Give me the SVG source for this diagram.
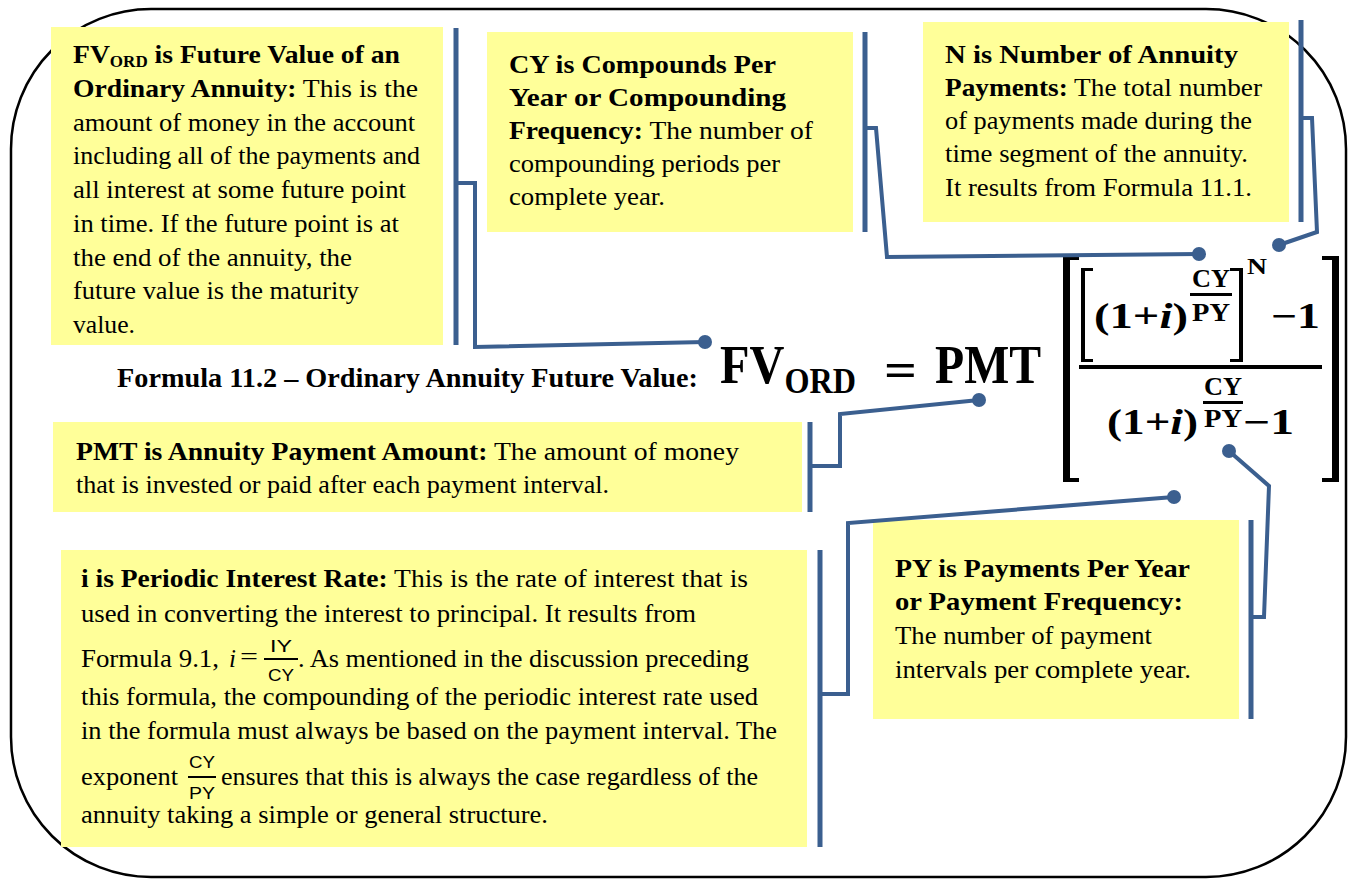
<svg xmlns="http://www.w3.org/2000/svg" width="1349" height="879" viewBox="0 0 1349 879">
<style>
.box{fill:#FFFF99}
.bar{stroke:#3B5F8F;stroke-width:5;fill:none}
.conn{stroke:#3B5F8F;stroke-width:4;fill:none;stroke-linejoin:miter}
.dot{fill:#3B5F8F}
.t{font-family:"Liberation Serif","Times New Roman",serif;font-size:26px;fill:#000}
.c{font-family:"Liberation Serif","Times New Roman",serif;font-size:25px;fill:#000}
.b{font-weight:bold}
.it{font-style:italic}
.m{font-family:"Liberation Serif","Times New Roman",serif;font-weight:bold;fill:#000}
.s{font-family:"Liberation Sans",Arial,sans-serif;font-size:17px;fill:#000}
.blk{fill:#000}
</style>
<rect x="11" y="9" width="1335" height="868" rx="140" ry="140" fill="#fff" stroke="#000" stroke-width="2.5"/>

<g id="fv-box">
<rect class="box" x="51" y="27" width="392" height="318"/>
<text class="t b" x="73" y="63" textLength="327" lengthAdjust="spacingAndGlyphs">FV<tspan dy="4" style="font-size:16px">ORD</tspan><tspan dy="-4"> is Future Value of an</tspan></text>
<text class="t" x="73" y="97" textLength="345" lengthAdjust="spacingAndGlyphs"><tspan class="b">Ordinary Annuity:</tspan> This is the</text>
<text class="t" x="73" y="131" textLength="342" lengthAdjust="spacingAndGlyphs">amount of money in the account</text>
<text class="t" x="73" y="164" textLength="347" lengthAdjust="spacingAndGlyphs">including all of the payments and</text>
<text class="t" x="73" y="198" textLength="333" lengthAdjust="spacingAndGlyphs">all interest at some future point</text>
<text class="t" x="73" y="232" textLength="326" lengthAdjust="spacingAndGlyphs">in time. If the future point is at</text>
<text class="t" x="73" y="266" textLength="279" lengthAdjust="spacingAndGlyphs">the end of the annuity, the</text>
<text class="t" x="73" y="299" textLength="286" lengthAdjust="spacingAndGlyphs">future value is the maturity</text>
<text class="t" x="73" y="333" textLength="62" lengthAdjust="spacingAndGlyphs">value.</text>
</g>

<g id="cy-box">
<rect class="box" x="487" y="32" width="366" height="200"/>
<text class="t b" x="509" y="73" textLength="267" lengthAdjust="spacingAndGlyphs">CY is Compounds Per</text>
<text class="t b" x="509" y="106" textLength="277" lengthAdjust="spacingAndGlyphs">Year or Compounding</text>
<text class="t" x="509" y="139" textLength="304" lengthAdjust="spacingAndGlyphs"><tspan class="b">Frequency:</tspan> The number of</text>
<text class="t" x="509" y="172" textLength="271" lengthAdjust="spacingAndGlyphs">compounding periods per</text>
<text class="t" x="509" y="205" textLength="156" lengthAdjust="spacingAndGlyphs">complete year.</text>
</g>

<g id="n-box">
<rect class="box" x="923" y="22" width="366" height="200"/>
<text class="t b" x="945" y="63" textLength="293" lengthAdjust="spacingAndGlyphs">N is Number of Annuity</text>
<text class="t" x="945" y="96" textLength="317" lengthAdjust="spacingAndGlyphs"><tspan class="b">Payments:</tspan> The total number</text>
<text class="t" x="945" y="129" textLength="307" lengthAdjust="spacingAndGlyphs">of payments made during the</text>
<text class="t" x="945" y="162" textLength="303" lengthAdjust="spacingAndGlyphs">time segment of the annuity.</text>
<text class="t" x="945" y="196" textLength="307" lengthAdjust="spacingAndGlyphs">It results from Formula 11.1.</text>
</g>

<g id="pmt-box">
<rect class="box" x="53" y="422" width="749" height="90"/>
<text class="c" x="76" y="460" textLength="663" lengthAdjust="spacingAndGlyphs"><tspan class="b">PMT is Annuity Payment Amount:</tspan> The amount of money</text>
<text class="c" x="76" y="493" textLength="533" lengthAdjust="spacingAndGlyphs">that is invested or paid after each payment interval.</text>
</g>

<g id="i-box">
<rect class="box" x="61" y="550" width="746" height="297"/>
<text class="c" x="81" y="587" textLength="667" lengthAdjust="spacingAndGlyphs"><tspan class="b">i is Periodic Interest Rate:</tspan> This is the rate of interest that is</text>
<text class="c" x="81" y="622" textLength="615" lengthAdjust="spacingAndGlyphs">used in converting the interest to principal. It results from</text>
<text class="c" x="81" y="667" textLength="138" lengthAdjust="spacingAndGlyphs">Formula 9.1,</text>
<text class="c it" x="229" y="667">i</text>
<text class="c" x="240" y="665" textLength="18" lengthAdjust="spacingAndGlyphs">=</text>
<text class="s" x="281" y="652" text-anchor="middle" textLength="22" lengthAdjust="spacingAndGlyphs">IY</text>
<rect class="blk" x="264" y="658" width="34" height="2"/>
<text class="s" x="281" y="681" text-anchor="middle" textLength="26" lengthAdjust="spacingAndGlyphs">CY</text>
<text class="c" x="298" y="667" textLength="451" lengthAdjust="spacingAndGlyphs">. As mentioned in the discussion preceding</text>
<text class="c" x="81" y="705" textLength="677" lengthAdjust="spacingAndGlyphs">this formula, the compounding of the periodic interest rate used</text>
<text class="c" x="81" y="739" textLength="696" lengthAdjust="spacingAndGlyphs">in the formula must always be based on the payment interval. The</text>
<text class="c" x="81" y="785" textLength="97" lengthAdjust="spacingAndGlyphs">exponent</text>
<text class="s" x="202" y="768" text-anchor="middle" textLength="26" lengthAdjust="spacingAndGlyphs">CY</text>
<rect class="blk" x="188" y="776" width="28" height="2"/>
<text class="s" x="202" y="799" text-anchor="middle" textLength="26" lengthAdjust="spacingAndGlyphs">PY</text>
<text class="c" x="221" y="785" textLength="537" lengthAdjust="spacingAndGlyphs">ensures that this is always the case regardless of the</text>
<text class="c" x="81" y="823" textLength="467" lengthAdjust="spacingAndGlyphs">annuity taking a simple or general structure.</text>
</g>

<g id="py-box">
<rect class="box" x="873" y="520" width="366" height="199"/>
<text class="t b" x="895" y="577" textLength="295" lengthAdjust="spacingAndGlyphs">PY is Payments Per Year</text>
<text class="t b" x="895" y="610" textLength="288" lengthAdjust="spacingAndGlyphs">or Payment Frequency:</text>
<text class="t" x="895" y="644" textLength="257" lengthAdjust="spacingAndGlyphs">The number of payment</text>
<text class="t" x="895" y="678" textLength="296" lengthAdjust="spacingAndGlyphs">intervals per complete year.</text>
</g>

<g id="formula">
<text class="m" x="117" y="387" style="font-size:27px" textLength="581" lengthAdjust="spacingAndGlyphs">Formula 11.2 – Ordinary Annuity Future Value:</text>
<text class="m" x="720" y="383" style="font-size:54px" textLength="136" lengthAdjust="spacingAndGlyphs">FV<tspan dy="10" style="font-size:36px">ORD</tspan></text>
<text class="m" x="884" y="386" style="font-size:48px" textLength="33" lengthAdjust="spacingAndGlyphs">=</text>
<text class="m" x="935" y="383" style="font-size:54px" textLength="106" lengthAdjust="spacingAndGlyphs">PMT</text>
<rect class="blk" x="1063" y="256" width="7" height="226"/>
<rect class="blk" x="1063" y="256" width="16" height="4"/>
<rect class="blk" x="1063" y="478" width="16" height="4"/>
<rect class="blk" x="1332" y="256" width="7" height="226"/>
<rect class="blk" x="1322" y="256" width="17" height="4"/>
<rect class="blk" x="1322" y="478" width="17" height="4"/>
<rect class="blk" x="1081" y="268" width="4" height="94"/>
<rect class="blk" x="1081" y="268" width="12" height="3"/>
<rect class="blk" x="1081" y="359" width="12" height="3"/>
<rect class="blk" x="1239" y="268" width="4" height="94"/>
<rect class="blk" x="1230" y="268" width="13" height="3"/>
<rect class="blk" x="1230" y="359" width="13" height="3"/>
<text class="m" x="1094" y="328" style="font-size:35px" textLength="94" lengthAdjust="spacingAndGlyphs">(1+<tspan class="it">i</tspan>)</text>
<text class="m" x="1211" y="287" text-anchor="middle" style="font-size:26px" textLength="38" lengthAdjust="spacingAndGlyphs">CY</text>
<rect class="blk" x="1190" y="293" width="42" height="3"/>
<text class="m" x="1211" y="321" text-anchor="middle" style="font-size:26px" textLength="38" lengthAdjust="spacingAndGlyphs">PY</text>
<text class="m" x="1247" y="274" style="font-size:24px" textLength="20" lengthAdjust="spacingAndGlyphs">N</text>
<text class="m" x="1271" y="328" style="font-size:35px" textLength="49" lengthAdjust="spacingAndGlyphs">−1</text>
<rect class="blk" x="1079" y="365" width="243" height="4"/>
<text class="m" x="1107" y="434" style="font-size:35px" textLength="91" lengthAdjust="spacingAndGlyphs">(1+<tspan class="it">i</tspan>)</text>
<text class="m" x="1223" y="395" text-anchor="middle" style="font-size:26px" textLength="38" lengthAdjust="spacingAndGlyphs">CY</text>
<rect class="blk" x="1203" y="401" width="40" height="3"/>
<text class="m" x="1223" y="427" text-anchor="middle" style="font-size:26px" textLength="38" lengthAdjust="spacingAndGlyphs">PY</text>
<text class="m" x="1243" y="434" style="font-size:35px" textLength="51" lengthAdjust="spacingAndGlyphs">−1</text>
</g>

<g id="connectors">
<line class="bar" x1="456" y1="28" x2="456" y2="345"/>
<line class="bar" x1="865" y1="32" x2="865" y2="232"/>
<line class="bar" x1="1301" y1="20" x2="1301" y2="222"/>
<line class="bar" x1="810" y1="422" x2="810" y2="512"/>
<line class="bar" x1="1251" y1="520" x2="1251" y2="719"/>
<line class="bar" x1="820" y1="550" x2="820" y2="847"/>
<path class="conn" d="M456,183 H475 V347 L705,342"/>
<path class="conn" d="M865,128 H876 L887,257 L1199,254"/>
<path class="conn" d="M1301,118 H1312 L1317,232 L1279,245"/>
<path class="conn" d="M810,466 H840 V414 L979,400"/>
<path class="conn" d="M1251,617 H1264 L1269,486 L1229,451"/>
<path class="conn" d="M820,694 H848 V523 L1174,497"/>
<circle class="dot" cx="705" cy="342" r="7"/>
<circle class="dot" cx="1199" cy="254" r="7"/>
<circle class="dot" cx="1279" cy="245" r="7"/>
<circle class="dot" cx="979" cy="400" r="7"/>
<circle class="dot" cx="1229" cy="451" r="7"/>
<circle class="dot" cx="1174" cy="497" r="7"/>
</g>
</svg>
